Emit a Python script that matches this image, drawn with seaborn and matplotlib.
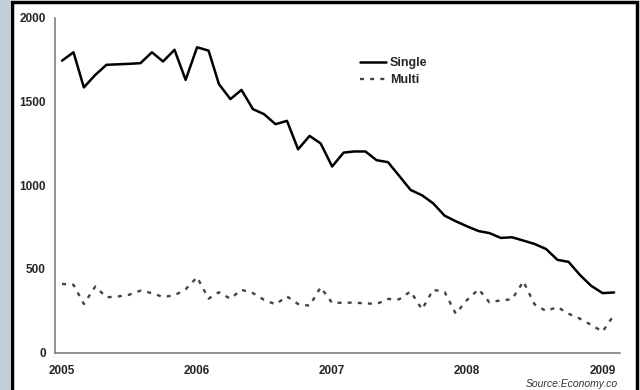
import matplotlib
matplotlib.use("Agg")
import matplotlib.pyplot as plt
import matplotlib.dates as mdates
from matplotlib.patches import Rectangle
import seaborn as sns
import pandas as pd

sns.set_style("white")
plt.rcParams['font.family'] = ['Liberation Sans', 'DejaVu Sans']

# monthly, Jan 2005 .. Feb 2009
months = pd.date_range("2005-01-01", periods=50, freq="MS")

single = [1745, 1795, 1585, 1660, 1720, 1723, 1726, 1730, 1795, 1740, 1810, 1630,
          1825, 1805, 1605, 1515, 1570, 1455, 1425, 1365, 1385, 1215, 1295, 1250,
          1112, 1195, 1202, 1202, 1150, 1138, 1057, 972, 940, 892, 818, 785,
          754, 726, 714, 685, 689, 669, 649, 619, 554, 542, 463, 399,
          355, 359]

multi = [410, 405, 290, 395, 330, 335, 345, 370, 355, 332, 342, 378,
         450, 322, 360, 322, 375, 355, 315, 288, 335, 290, 280, 390,
         296, 298, 298, 294, 290, 320, 318, 365, 258, 375, 362, 232,
         315, 378, 300, 312, 318, 425, 288, 248, 272, 232, 202, 165,
         125, 225]

df = pd.DataFrame({"month": months, "Single": single, "Multi": multi})

fig = plt.figure(figsize=(6.4, 3.9), dpi=100)
fig.patch.set_facecolor("white")
ax = fig.add_axes([55 / 640, 1 - 352.5 / 390, 565 / 640, 334.5 / 390])

sns.lineplot(data=df, x="month", y="Single", ax=ax, color="black", lw=1.8, label="Single")
sns.lineplot(data=df, x="month", y="Multi", ax=ax, color="#444444", lw=1.7,
             linestyle=(0, (1.7, 2.6)), label="Multi")

ax.set_ylim(0, 2000)
ax.set_xlim(pd.Timestamp("2004-12-13"), pd.Timestamp("2009-02-17"))
ax.set_yticks([0, 500, 1000, 1500, 2000])
ax.xaxis.set_major_locator(mdates.YearLocator())
ax.xaxis.set_major_formatter(mdates.DateFormatter("%Y"))
ax.set_xlabel("")
ax.set_ylabel("")
ax.tick_params(axis="y", length=0, pad=6.5, labelsize=8.5)
ax.tick_params(axis="x", length=0, pad=9, labelsize=8.5)
for lab in ax.get_xticklabels() + ax.get_yticklabels():
    lab.set_fontweight("bold")

for s in ["top", "right"]:
    ax.spines[s].set_visible(False)
for s in ["left", "bottom"]:
    ax.spines[s].set_color("#808080")
    ax.spines[s].set_linewidth(1.2)

leg = ax.legend(loc="upper left", bbox_to_anchor=((360 - 55) / 565, 0.882),
                frameon=False, borderpad=0, borderaxespad=0, handlelength=2.1,
                handletextpad=0.3, labelspacing=0.4, prop={"size": 9, "weight": "bold"})

fig.text(618 / 640, 1 - 384 / 390, "Source:Economy.co", ha="right", va="center",
         fontsize=7.5, style="italic", color="#333333")

# frame around the chart
fig.add_artist(Rectangle((0, 0), 10 / 640, 1, transform=fig.transFigure,
                         facecolor="#c3cfd9", edgecolor="none", zorder=0))
fig.add_artist(Rectangle((11.5 / 640, -0.02), (636.5 - 11.5) / 640, 1.02 - 1.5 / 390,
                         transform=fig.transFigure, fill=False,
                         edgecolor="black", lw=2.5, zorder=5))

fig.savefig("out.png", dpi=100)
